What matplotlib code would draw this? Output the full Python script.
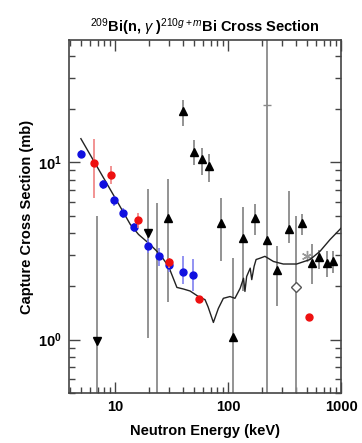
import matplotlib
matplotlib.use("Agg")
import matplotlib.pyplot as plt
import numpy as np

plt.rcParams['font.family'] = ['Liberation Sans', 'DejaVu Sans']
plt.rcParams['mathtext.fontset'] = 'custom'
plt.rcParams['mathtext.rm'] = 'Liberation Sans'
plt.rcParams['mathtext.bf'] = 'Liberation Sans:bold'
plt.rcParams['mathtext.it'] = 'Liberation Sans:italic'

# model curve
curve_x = [4.97, 10.35, 13.6, 16.1, 20.4, 25.0, 29.7, 35.2, 40.2, 46.1, 54.6, 62.5, 66.5,
           74.1, 82.0, 90.8, 104, 115, 128, 137, 141, 146, 157, 162, 170, 177, 192, 212,
           252, 308, 405, 532, 652, 800, 1000]
curve_y = [13.6, 6.06, 4.47, 3.92, 3.44, 3.02, 2.59, 1.97, 1.93, 1.88, 1.75, 1.68, 1.53,
           1.25, 1.50, 1.71, 1.75, 1.71, 1.95, 2.22, 1.87, 2.27, 2.53, 2.18, 2.59, 2.83, 2.88, 2.95,
           2.76, 2.67, 2.67, 2.83, 3.15, 3.67, 4.25]

# blue circles
blue_x = [4.97, 7.88, 9.86, 11.8, 14.8, 19.7, 24.5, 30.1, 39.7, 49.3]
blue_y = [11.2, 7.54, 6.12, 5.16, 4.30, 3.39, 2.95, 2.62, 2.42, 2.30]
blue_lo = [10.6, 7.1, 5.7, 4.85, 4.05, 3.1, 2.6, 2.4, 2.05, 1.87]
blue_hi = [11.8, 8.0, 6.5, 5.5, 4.55, 3.7, 3.3, 2.85, 2.95, 2.84]

# red circles
red_x = [6.43, 9.16, 15.9, 30.1, 55.7, 521]
red_y = [9.9, 8.5, 4.72, 2.73, 1.69, 1.35]
red_lo = [6.3, 7.54, 4.27, 2.55, 1.62, 1.30]
red_hi = [13.6, 9.57, 5.2, 2.9, 1.76, 1.40]

# black up triangles
tri_x = [29.6, 39.7, 50.0, 59.3, 68.4, 86, 111, 135, 173, 223, 273, 347, 449, 551, 643, 747, 855]
tri_y = [4.83, 19.5, 11.5, 10.45, 9.58, 4.56, 1.036, 3.75, 4.87, 3.67, 2.48, 4.2, 4.56, 2.7, 2.91, 2.7, 2.79]
tri_lo = [1.64, 16.1, 9.6, 8.5, 7.7, 2.76, 0.3, 1.87, 3.9, 0.3, 1.54, 3.5, 3.9, 2.05, 2.49, 2.27, 2.37]
tri_hi = [8.05, 22.6, 13.3, 12.1, 11.2, 6.33, 2.89, 5.6, 5.8, 60, 3.36, 6.9, 5.1, 3.46, 3.22, 3.15, 3.15]

# black down triangles
dn_x = [6.89, 19.5]
dn_y = [0.98, 3.97]
dn_lo = [0.3, 1.02]
dn_hi = [4.98, 7.09]

# bare error bar (no marker visible)
bar_x = [23.7]
bar_y = [2.9]
bar_lo = [0.3]
bar_hi = [5.9]

# open diamond
dia_x = [398]
dia_y = [1.97]
dia_lo = [0.3]
dia_hi = [4.98]

# asterisk
star_x = [497]
star_y = [2.95]

# small tick on long bar
plus_x = [223]
plus_y = [21]

fig = plt.figure(figsize=(3.62, 4.43), dpi=100)
ax = fig.add_axes([0.1906, 0.1129, 0.7514, 0.7968])

gray = '#8a8a8a'

def err(y, lo, hi):
    y = np.asarray(y); return [y - np.asarray(lo), np.asarray(hi) - y]

ax.errorbar(bar_x, bar_y, yerr=err(bar_y, bar_lo, bar_hi), fmt='none', ecolor=gray, elinewidth=1.3)
ax.errorbar(dn_x, dn_y, yerr=err(dn_y, dn_lo, dn_hi), fmt='v', color='black', ms=5.5,
            ecolor=gray, elinewidth=1.3)
ax.errorbar(tri_x, tri_y, yerr=err(tri_y, tri_lo, tri_hi), fmt='^', color='black', ms=5.5,
            ecolor=gray, elinewidth=1.3)
ax.errorbar(dia_x, dia_y, yerr=err(dia_y, dia_lo, dia_hi), fmt='D', mfc='white', mec='#555555',
            ms=5, ecolor=gray, elinewidth=1.3)
ax.plot(star_x, star_y, marker=(6, 2, 0), color='#999999', ms=8, ls='none', mew=1)
ax.plot(plus_x, plus_y, marker='_', color=gray, ms=6, ls='none', mew=1)

ax.plot(curve_x, curve_y, color='#222222', lw=1.0, zorder=4)

ax.errorbar(blue_x, blue_y, yerr=err(blue_y, blue_lo, blue_hi), fmt='o', color='#1010e0', ms=5,
            ecolor='#8080f0', elinewidth=1.2, zorder=5)
ax.errorbar(red_x, red_y, yerr=err(red_y, red_lo, red_hi), fmt='o', color='#ee1010', ms=5,
            ecolor='#f08080', elinewidth=1.2, zorder=6)

ax.set_xscale('log')
ax.set_yscale('log')
ax.set_xlim(3.9, 1000)
ax.set_ylim(0.5, 49)

ax.set_xticks([10, 100, 1000])
ax.set_xticklabels(['10', '100', '1000'], fontsize=10.5, fontweight='bold')
ax.set_yticks([1, 10])
ax.set_yticklabels([r'$\mathbf{10^0}$', r'$\mathbf{10^1}$'], fontsize=10.5)

ax.tick_params(which='both', direction='in', top=True, right=True, color='#444444')
ax.tick_params(which='major', length=8, width=1, pad=5)
ax.tick_params(which='minor', length=4, width=1)
for s in ax.spines.values():
    s.set_linewidth(1.2)
    s.set_color('#444444')

ax.set_xlabel('Neutron Energy (keV)', fontsize=10.5, fontweight='bold', labelpad=7)
ax.set_ylabel('Capture Cross Section (mb)', fontsize=10.5, fontweight='bold', labelpad=3)
ax.set_title(r'$^{209}$Bi(n, $\mathit{\gamma}$ )$^{210g+m}$Bi Cross Section', fontsize=10.5,
             fontweight='bold', pad=6)

fig.savefig('out.png', dpi=100)
